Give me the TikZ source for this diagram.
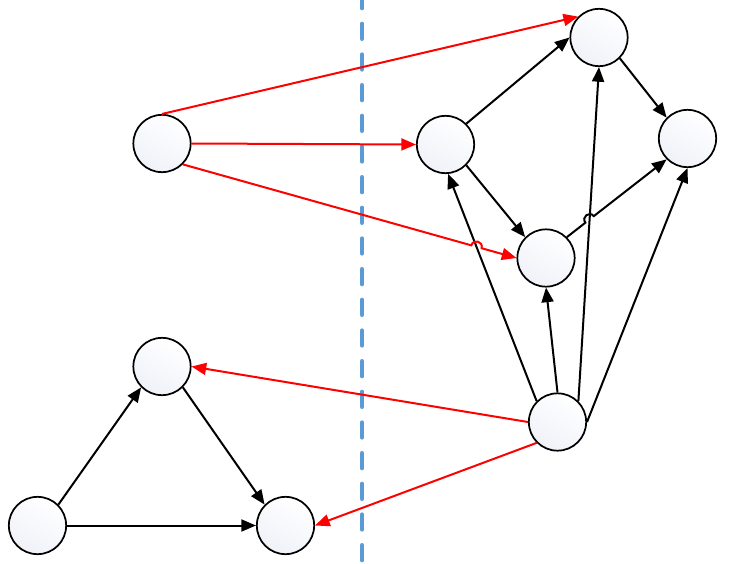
\documentclass[tikz,border=0pt]{standalone}
\usetikzlibrary{arrows.meta,calc,intersections}
\definecolor{vfill}{RGB}{240,242,249}
\definecolor{divblue}{RGB}{91,155,213}
\tikzset{
  vertex/.style={circle,draw=black,line width=1.3pt,minimum size=43pt,inner sep=0pt,
    top color=white,bottom color=vfill,shading angle=-30},
  edge/.style={line width=1.5pt,-{Triangle[length=11pt,width=9pt]}},
  redge/.style={edge,red},
  divider/.style={divblue,line width=3.5pt,line cap=round,dash pattern=on 11pt off 12pt,dash phase=5pt}
}
\begin{document}
\begin{tikzpicture}[x=0.75pt,y=-0.75pt]
\useasboundingbox (0,0) rectangle (729,564);
% split line
\coordinate (top) at (362,0);
\coordinate (bot) at (362,564);
\draw[divider] (top)--(bot);

% nodes
\node[vertex] (A) at (162,143.5) {};
\node[vertex] (B) at (445.5,144.5) {};
\node[vertex] (C) at (599,37.5) {};
\node[vertex] (D) at (687.5,138.5) {};
\node[vertex] (E) at (546,258) {};
\node[vertex] (F) at (557.5,422) {};
\node[vertex] (G) at (162,366.5) {};
\node[vertex] (H) at (37.5,525.5) {};
\node[vertex] (I) at (285.5,525.5) {};

% black edges
\draw[edge] (B.north east)--(C.west);
\draw[edge] (B.south east)--(E.north west);
\draw[edge] (C.south east)--(D.north west);
\draw[edge] (F.north west)--(B.-85);
\draw[edge] (F.north)--(E.south);
\draw[edge] (F.north east)--(C.south);
\draw[edge] (F.east)--(D.south);
\draw[edge] (H.north east)--(G.south west);
\draw[edge] (G.south east)--(I.north west);
\draw[edge] (H.east)--(I.west);

% crossings
\path[name path=fb] (F.north west)--(B.-85);
\path[name path=ae] (A.south east)--(E.west);
\path[name intersections={of=fb and ae,by=hopa}];
\path[name path=fc] (F.north east)--(C.south);
\path[name path=ed] (E.north east)--(D.south west);
\path[name intersections={of=fc and ed,by=hopb}];
\coordinate (ha1) at ($(hopa)!4pt!(A.south east)$);
\coordinate (ha2) at ($(hopa)!4pt!(E.west)$);
\coordinate (hb1) at ($(hopb)!4pt!(E.north east)$);
\coordinate (hb2) at ($(hopb)!4pt!(D.south west)$);

\draw[edge] (E.north east)--(hb1)
  .. controls ($(hb1)!1.33!90:(hopb)$) and ($(hb2)!1.33!-90:(hopb)$) .. (hb2)
  --(D.south west);

% red edges
\draw[redge] (A.north)--(C.north west);
\draw[redge] (A.east)--(B.west);
\draw[redge] (A.south east)--(ha1)
  .. controls ($(ha1)!1.33!90:(hopa)$) and ($(ha2)!1.33!-90:(hopa)$) .. (ha2)
  --(E.west);
\draw[redge] (F.west)--(G.east);
\draw[redge] (F.south west)--(I.east);
\end{tikzpicture}
\end{document}
